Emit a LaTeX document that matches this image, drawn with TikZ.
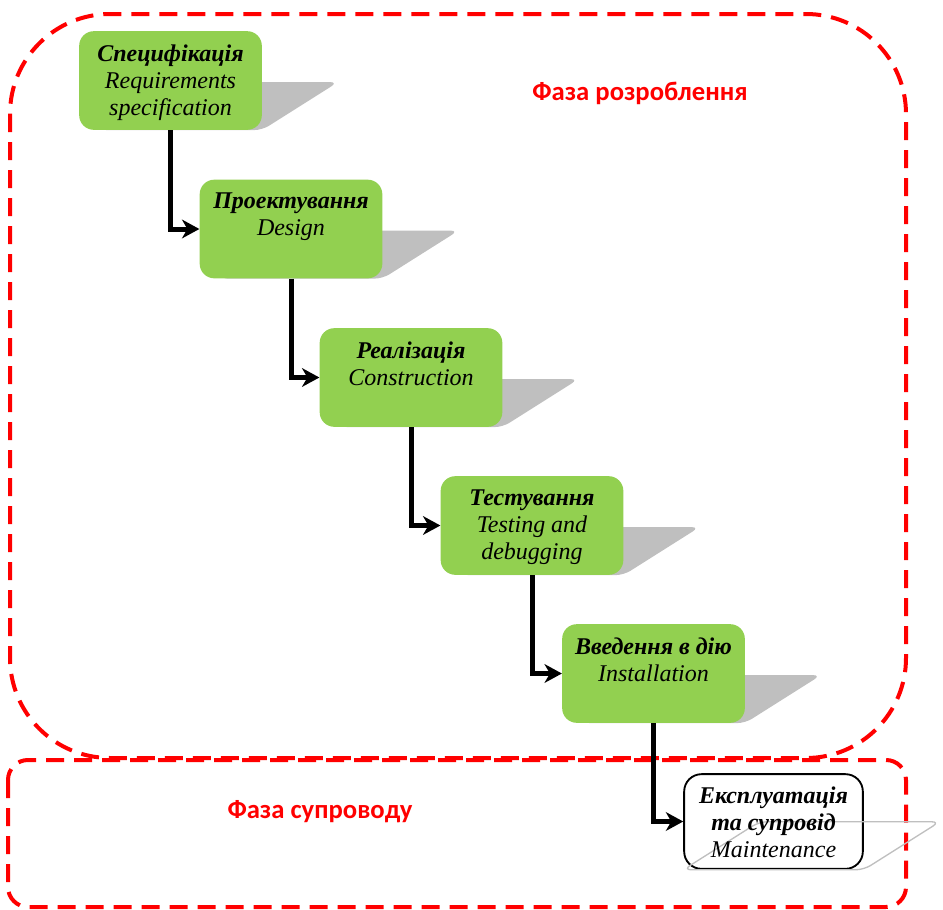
\documentclass[tikz,border=0pt]{standalone}
\usepackage{fontspec}
\setmainfont{LiberationSerif}[
  Extension=.ttf,
  UprightFont=*-Regular,
  ItalicFont=*-Italic,
  BoldFont=*-Bold,
  BoldItalicFont=*-BoldItalic]
\newfontfamily\phasefont{Carlito}
\usetikzlibrary{arrows.meta,calc,backgrounds}
\definecolor{stagegreen}{HTML}{92D050}
\definecolor{shadowgray}{HTML}{BFBFBF}
\definecolor{phasered}{HTML}{FF0000}

\begin{document}
\begin{tikzpicture}[x=0.75pt,y=-0.75pt,
  stagebox/.style={rounded corners=11pt, minimum width=137pt, minimum height=74pt, inner sep=0pt},
  greenbox/.style={stagebox, fill=stagegreen},
  whitebox/.style={stagebox, draw=black, line width=1.4pt, rounded corners=13pt,
    minimum width=134pt, minimum height=71pt},
  stagetext/.style={anchor=north, align=center, inner sep=0pt, yshift=-10pt,
    font=\fontsize{18}{20.3}\selectfont\itshape},
  shadowfill/.style={fill=shadowgray, rounded corners=6pt},
  shadowline/.style={draw=shadowgray, line width=1pt, rounded corners=6pt},
  flow/.style={line width=3.75pt, -{Stealth[length=13pt,width=14pt,inset=4pt]}},
  phase/.style={draw=phasered, line width=3pt, dash pattern=on 13.5pt off 7.5pt},
  phaselabel/.style={text=phasered, font=\phasefont\bfseries\fontsize{20}{24}\selectfont}
]
\useasboundingbox (0,0) rectangle (943,910);

% phase regions
\draw[phase, rounded corners=75pt] (10,14) rectangle (906,758);
\draw[phase, rounded corners=15pt] (8,760) rectangle (906,907);
\node[phaselabel] (devphase) at (640,93) {Фаза розроблення};
\node[phaselabel] (suppphase) at (320,812) {Фаза супроводу};

% stage boxes
\node[greenbox] (s1) at (170.5,80.5) {};
\node[greenbox] (s2) at (291,229) {};
\node[greenbox] (s3) at (411,377.5) {};
\node[greenbox] (s4) at (532,525.5) {};
\node[greenbox] (s5) at (653.5,673.5) {};
\node[whitebox] (s6) at (773.5,821.5) {};

% perspective shadows behind the boxes
\begin{pgfonlayer}{background}
  \foreach \s in {s1,s2,s3,s4,s5}{
    \fill[shadowfill] ($(\s.south west)+(20,0)$) -- (\s.south east)
      -- ($(\s.south east)+(76,-48)$) -- ($(\s.south west)+(96,-48)$) -- cycle;
  }
\end{pgfonlayer}
\draw[shadowline] (s6.south west) -- (s6.south east)
  -- ($(s6.south east)+(76,-48)$) -- ($(s6.south west)+(76,-48)$) -- cycle;

% stage labels
\node[stagetext] (t1) at (s1.north) {\textbf{Специфікація}\\Requirements\\specification};
\node[stagetext] (t2) at (s2.north) {\textbf{Проектування}\\Design};
\node[stagetext] (t3) at (s3.north) {\textbf{Реалізація}\\Construction};
\node[stagetext] (t4) at (s4.north) {\textbf{Тестування}\\Testing and\\debugging};
\node[stagetext] (t5) at (s5.north) {\textbf{Введення в дію}\\Installation};
\node[stagetext] (t6) at (s6.north) {\textbf{Експлуатація}\\\textbf{та супровід}\\Maintenance};

% flow between stages
\draw[flow] (s1.south) |- (s2.west);
\draw[flow] (s2.south) |- (s3.west);
\draw[flow] (s3.south) |- (s4.west);
\draw[flow] (s4.south) |- (s5.west);
\draw[flow] (s5.south) |- (s6.west);
\end{tikzpicture}
\end{document}
